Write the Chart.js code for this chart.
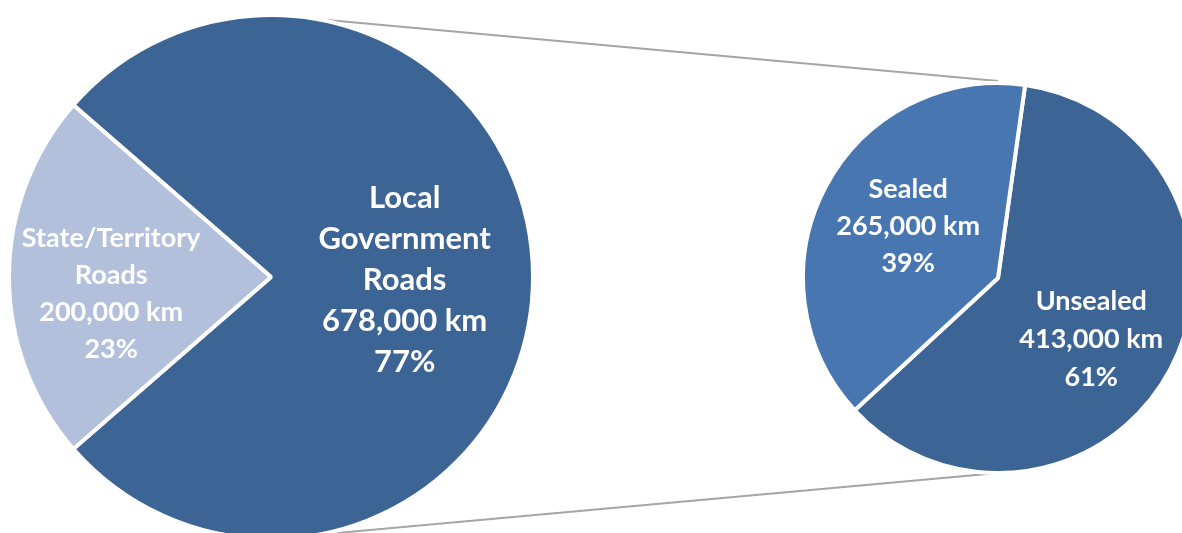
<!DOCTYPE html>
<html lang="en">
<head>
    <meta charset="UTF-8">
    <title>Road Network by Ownership</title>
    <script src="https://cdn.jsdelivr.net/npm/chart.js"></script>
    <style>
        html, body { margin: 0; padding: 0; background: #fff; overflow: hidden; }
        body { width: 1182px; height: 533px; position: relative; }
        canvas { position: absolute; }
        #lines { left: 0; top: 0; z-index: 0; }
        #mainPie { left: 0; top: 0; z-index: 1; }
        #subPie { left: 798px; top: 78px; z-index: 1; }
    </style>
</head>
<body>
    <canvas id="lines" width="1182" height="533"></canvas>
    <canvas id="mainPie" width="542" height="554"></canvas>
    <canvas id="subPie" width="400" height="400"></canvas>

    <script>
        // main pie: road length by who manages it (km)
        const mainLabels = [["Local", "Government", "Roads"], ["State/Territory", "Roads"]];
        const mainValues = [678000, 200000];
        const mainColors = ["#3c6494", "#b2c0dc"];

        // second pie: local government roads split by surface (km)
        const subLabels = [["Unsealed"], ["Sealed"]];
        const subValues = [413000, 265000];
        const subColors = ["#3c6494", "#4776b0"];

        const FONT = "Lato, 'Open Sans', sans-serif";

        // writes name, km and percent inside each slice
        const sliceText = {
            id: "sliceText",
            afterDatasetsDraw(chart, args, opts) {
                const ctx = chart.ctx;
                const ds = chart.data.datasets[0];
                const total = ds.data.reduce((a, b) => a + b, 0);
                const meta = chart.getDatasetMeta(0);
                meta.data.forEach((arc, i) => {
                    const mid = (arc.startAngle + arc.endAngle) / 2;
                    const r = arc.outerRadius * opts.dist[i];
                    const cx = arc.x + Math.cos(mid) * r;
                    const cy = arc.y + Math.sin(mid) * r + (opts.shiftY ? opts.shiftY[i] : 0);
                    const lines = chart.data.labels[i].concat([
                        ds.data[i].toLocaleString("en-US") + " km",
                        Math.round(ds.data[i] / total * 100) + "%"
                    ]);
                    const size = opts.size[i];
                    const lh = opts.lineHeight[i];
                    ctx.save();
                    ctx.fillStyle = "#ffffff";
                    ctx.font = "bold " + size + "px " + FONT;
                    ctx.textAlign = "center";
                    ctx.textBaseline = "middle";
                    const top = cy - (lines.length - 1) * lh / 2;
                    lines.forEach((t, k) => ctx.fillText(t, cx, top + k * lh));
                    ctx.restore();
                });
            }
        };

        function pieOptions(rotation, radius, text) {
            return {
                responsive: false,
                devicePixelRatio: 1,
                animation: false,
                rotation: rotation,
                radius: radius,
                layout: { padding: 0 },
                plugins: {
                    legend: { display: false },
                    tooltip: { enabled: false },
                    sliceText: text
                }
            };
        }

        const stateShare = mainValues[1] / (mainValues[0] + mainValues[1]);

        const mainChart = new Chart(document.getElementById("mainPie"), {
            type: "pie",
            data: {
                labels: mainLabels,
                datasets: [{
                    data: mainValues,
                    backgroundColor: mainColors,
                    borderColor: "#ffffff",
                    borderWidth: 4
                }]
            },
            // keep the State/Territory slice centred on the left
            options: pieOptions(270 + stateShare * 180, 262, {
                dist: [0.51, 0.61], shiftY: [3, 17], size: [31, 27], lineHeight: [41, 37]
            }),
            plugins: [sliceText]
        });

        const subChart = new Chart(document.getElementById("subPie"), {
            type: "pie",
            data: {
                labels: subLabels,
                datasets: [{
                    data: subValues,
                    backgroundColor: subColors,
                    borderColor: "#ffffff",
                    borderWidth: 4
                }]
            },
            options: pieOptions(8, 195, {
                dist: [0.54, 0.52], shiftY: [12, -5], size: [27, 27], lineHeight: [38, 37]
            }),
            plugins: [sliceText]
        });

        // grey connector lines between the two pies
        function drawConnectors() {
            const a = mainChart.getDatasetMeta(0).data[0];
            const b = subChart.getDatasetMeta(0).data[0];
            const bx = b.x + 798, by = b.y + 78;
            const ctx = document.getElementById("lines").getContext("2d");
            ctx.strokeStyle = "#a5a5a5";
            ctx.lineWidth = 2;
            const t = 10 * Math.PI / 180;
            ctx.beginPath();
            ctx.moveTo(a.x + Math.sin(t) * a.outerRadius, a.y - Math.cos(t) * a.outerRadius);
            ctx.lineTo(bx, by - b.outerRadius - 2);
            ctx.moveTo(a.x, a.y + a.outerRadius);
            ctx.lineTo(bx, by + b.outerRadius);
            ctx.stroke();
        }
        drawConnectors();
    </script>
</body>
</html>
